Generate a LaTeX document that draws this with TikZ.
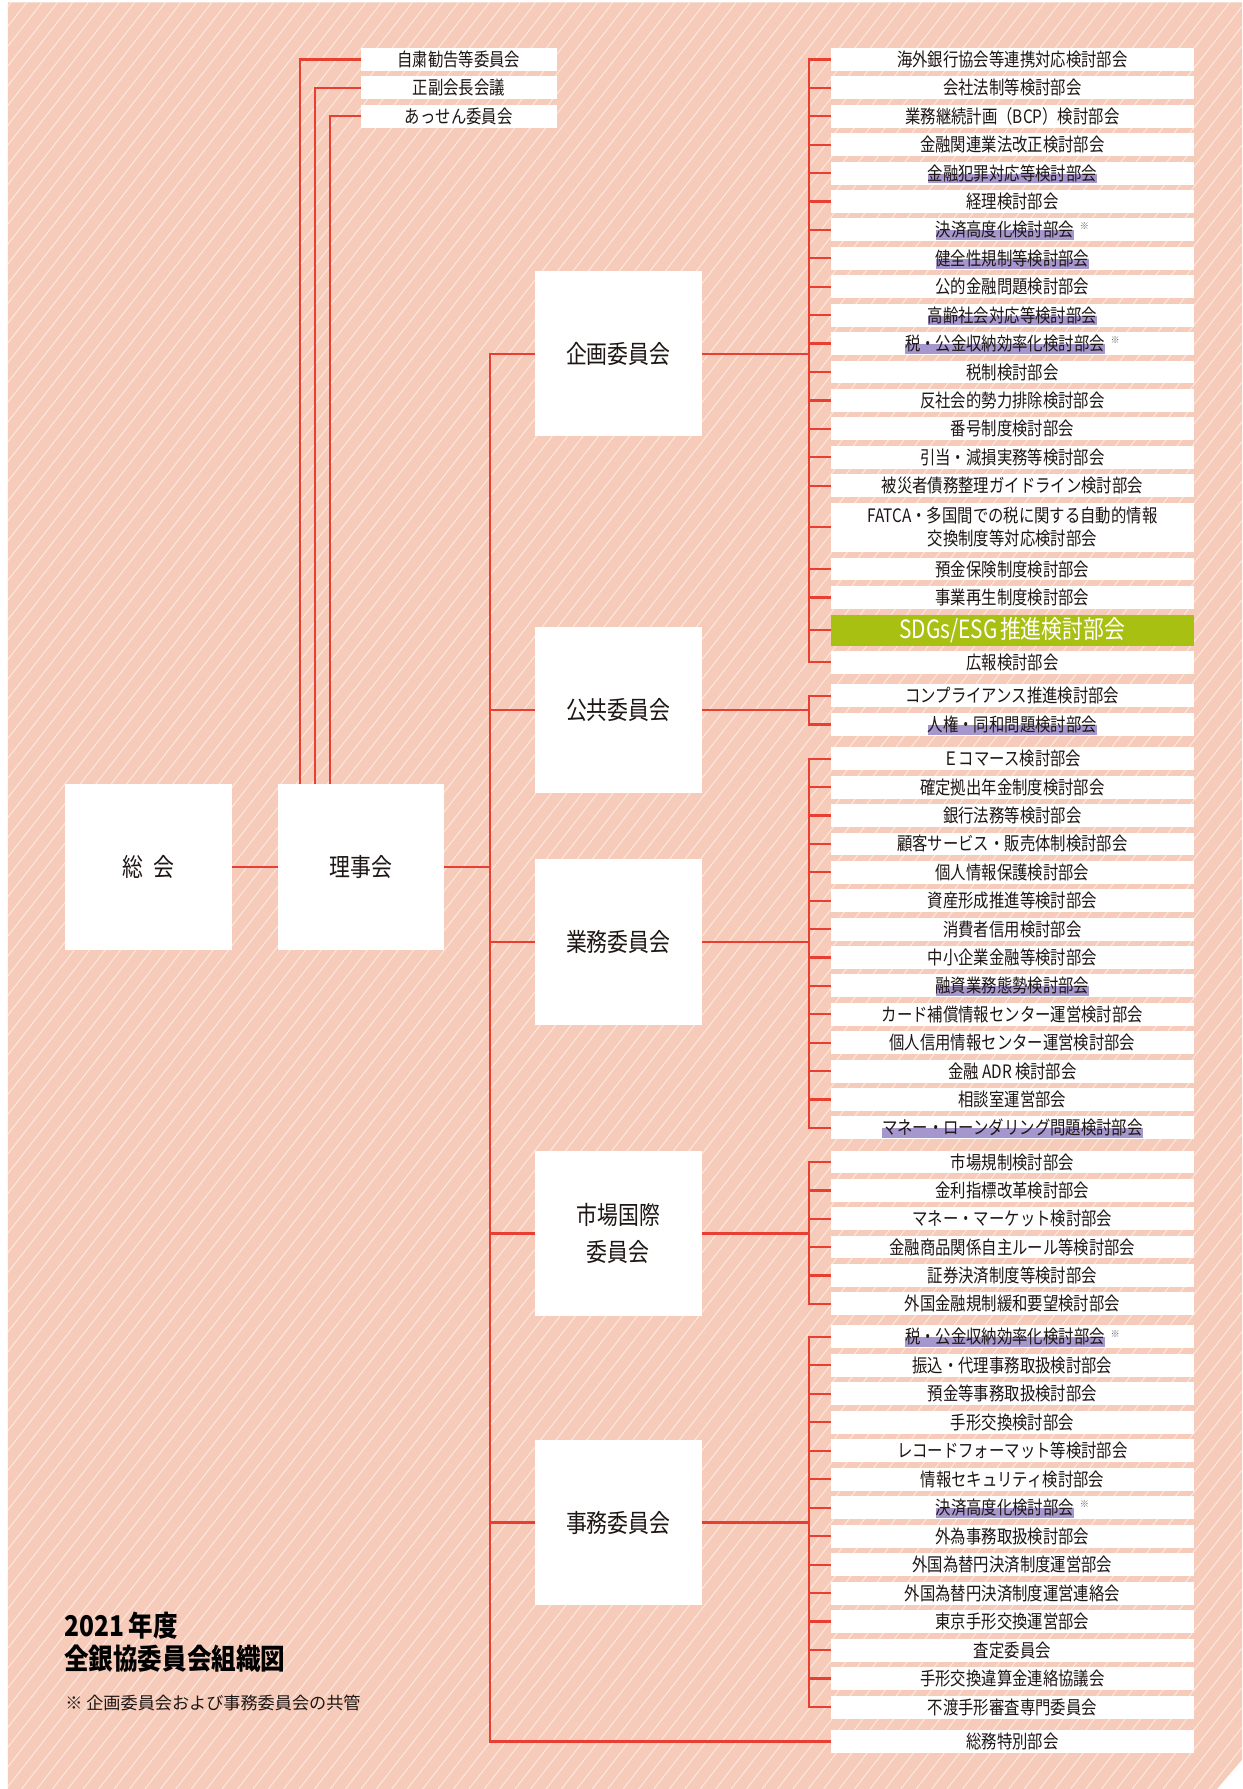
\documentclass[tikz,border=0pt]{standalone}
\usepackage{fontspec}
\usetikzlibrary{calc}
\newfontfamily\jp[FakeStretch=0.83]{Noto Sans CJK JP}
\newfontfamily\jpn{Noto Sans CJK JP}
\newfontfamily\jpt[FakeStretch=0.86]{Noto Sans CJK JP}
\definecolor{bgc}{RGB}{247,203,185}
\definecolor{redl}{RGB}{233,62,50}
\definecolor{hlc}{RGB}{165,150,205}
\definecolor{txt}{RGB}{30,22,20}
\definecolor{sdg}{RGB}{168,192,18}
\newsavebox\hlbox
\newcommand\hlt[1]{\sbox\hlbox{#1}\rlap{\smash{\color{hlc}\rule[-2.8pt]{\wd\hlbox}{8.5pt}}}\usebox\hlbox}
\newcommand\asta{\hspace{5pt}\raisebox{6pt}{\color{black!60}\jpn\fontsize{8}{8}\selectfont ※}}
\pgfdeclarelayer{bg}
\pgfdeclarelayer{lines}
\pgfsetlayers{bg,lines,main}
\tikzset{
  conn/.style={draw=redl, line width=2pt, line cap=rect},
  bigbox/.style={fill=white, minimum width=146pt, minimum height=145pt, inner sep=0pt, text=txt, font=\jp\fontsize{22}{33}\selectfont, align=center},
  item/.style={fill=white, minimum width=318pt, minimum height=20pt, inner sep=0pt, text=txt, font=\jp\fontsize{16.2}{20}\selectfont, align=center},
  topbox/.style={item, minimum width=172pt},
  sdgbox/.style={item, fill=sdg, text=white, minimum height=27pt, font=\jp\fontsize{22}{24}\selectfont},
  stripe/.style={draw=white, opacity=0.6, line width=0.8pt},
}
\begin{document}
\begin{tikzpicture}[x=1pt,y=-1pt]
\useasboundingbox (0,0) rectangle (1087,1565.7);
\begin{pgfonlayer}{bg}
  \fill[bgc] (7,2) -- (1087,2) -- (1087,1540) -- (1065,1565.7) -- (7,1565.7) -- cycle;
  \begin{scope}
    \clip (7,2) -- (1087,2) -- (1087,1540) -- (1065,1565.7) -- (7,1565.7) -- cycle;
    \foreach \k in {0,...,180} {
      \draw[stripe] ({-1240+\k*13.5},1570) -- ++(1226,-1572);
    }
  \end{scope}
\end{pgfonlayer}

% main boxes
\node[bigbox] (sokai) at (130,758.5) {総\hspace{0.4em}会};
\node[bigbox] (rijikai) at (316,758.5) {理事会};
\node[bigbox] (kikaku) at (541,309.5) {企画委員会};
\node[bigbox] (kokyo) at (541,621.5) {公共委員会};
\node[bigbox] (gyomu) at (541,824.5) {業務委員会};
\node[bigbox] (shijo) at (541,1079.5) {市場国際\\委員会};
\node[bigbox] (jimu) at (541,1332.5) {事務委員会};

% top-left boxes
\node[topbox] (t1) at (401.5,52) {自粛勧告等委員会};
\node[topbox] (t2) at (401.5,76.9) {正副会長会議};
\node[topbox] (t3) at (401.5,101.7) {あっせん委員会};

% kikaku group
\node[item] (k1) at (886,52.0) {海外銀行協会等連携対応検討部会};
\node[item] (k2) at (886,76.9) {会社法制等検討部会};
\node[item] (k3) at (886,101.7) {業務継続計画（BCP）検討部会};
\node[item] (k4) at (886,126.6) {金融関連業法改正検討部会};
\node[item] (k5) at (886,151.5) {\hlt{金融犯罪対応等検討部会}};
\node[item] (k6) at (886,176.4) {経理検討部会};
\node[item] (k7) at (886,201.2) {\hlt{決済高度化検討部会}\asta};
\node[item] (k8) at (886,226.1) {\hlt{健全性規制等検討部会}};
\node[item] (k9) at (886,251.0) {公的金融問題検討部会};
\node[item] (k10) at (886,275.8) {\hlt{高齢社会対応等検討部会}};
\node[item] (k11) at (886,300.7) {\hlt{税・公金収納効率化検討部会}\asta};
\node[item] (k12) at (886,325.6) {税制検討部会};
\node[item] (k13) at (886,350.4) {反社会的勢力排除検討部会};
\node[item] (k14) at (886,375.3) {番号制度検討部会};
\node[item] (k15) at (886,400.2) {引当・減損実務等検討部会};
\node[item] (k16) at (886,425.1) {被災者債務整理ガイドライン検討部会};
\node[item, minimum height=43pt] (k17) at (886,461.5) {FATCA・多国間での税に関する自動的情報\\交換制度等対応検討部会};
\node[item] (k18) at (886,498.0) {預金保険制度検討部会};
\node[item] (k19) at (886,522.8) {事業再生制度検討部会};
\node[sdgbox] (k20) at (886,551.6) {SDGs/ESG\hspace{2pt}推進検討部会};
\node[item] (k21) at (886,579.6) {広報検討部会};

% kokyo group
\node[item] (p1) at (886,609.0) {コンプライアンス推進検討部会};
\node[item] (p2) at (886,634.0) {\hlt{人権・同和問題検討部会}};

% gyomu group
\node[item] (g1) at (886,664.0) {Ｅコマース検討部会};
\node[item] (g2) at (886,688.9) {確定拠出年金制度検討部会};
\node[item] (g3) at (886,713.7) {銀行法務等検討部会};
\node[item] (g4) at (886,738.6) {顧客サービス・販売体制検討部会};
\node[item] (g5) at (886,763.4) {個人情報保護検討部会};
\node[item] (g6) at (886,788.3) {資産形成推進等検討部会};
\node[item] (g7) at (886,813.1) {消費者信用検討部会};
\node[item] (g8) at (886,838.0) {中小企業金融等検討部会};
\node[item] (g9) at (886,862.8) {\hlt{融資業務態勢検討部会}};
\node[item] (g10) at (886,887.7) {カード補償情報センター運営検討部会};
\node[item] (g11) at (886,912.5) {個人信用情報センター運営検討部会};
\node[item] (g12) at (886,937.4) {金融 ADR 検討部会};
\node[item] (g13) at (886,962.2) {相談室運営部会};
\node[item] (g14) at (886,987.0) {\hlt{マネー・ローンダリング問題検討部会}};

% shijo group
\node[item] (s1) at (886,1017.0) {市場規制検討部会};
\node[item] (s2) at (886,1041.8) {金利指標改革検討部会};
\node[item] (s3) at (886,1066.6) {マネー・マーケット検討部会};
\node[item] (s4) at (886,1091.4) {金融商品関係自主ルール等検討部会};
\node[item] (s5) at (886,1116.2) {証券決済制度等検討部会};
\node[item] (s6) at (886,1141.0) {外国金融規制緩和要望検討部会};

% jimu group
\node[item] (j1) at (886,1170.0) {\hlt{税・公金収納効率化検討部会}\asta};
\node[item] (j2) at (886,1194.9) {振込・代理事務取扱検討部会};
\node[item] (j3) at (886,1219.8) {預金等事務取扱検討部会};
\node[item] (j4) at (886,1244.8) {手形交換検討部会};
\node[item] (j5) at (886,1269.7) {レコードフォーマット等検討部会};
\node[item] (j6) at (886,1294.6) {情報セキュリティ検討部会};
\node[item] (j7) at (886,1319.5) {\hlt{決済高度化検討部会}\asta};
\node[item] (j8) at (886,1344.4) {外為事務取扱検討部会};
\node[item] (j9) at (886,1369.4) {外国為替円決済制度運営部会};
\node[item] (j10) at (886,1394.3) {外国為替円決済制度運営連絡会};
\node[item] (j11) at (886,1419.2) {東京手形交換運営部会};
\node[item] (j12) at (886,1444.1) {査定委員会};
\node[item] (j13) at (886,1469.0) {手形交換違算金連絡協議会};
\node[item] (j14) at (886,1494.0) {不渡手形審査専門委員会};
\node[item] (somu) at (886,1524.0) {総務特別部会};

% title and note
\node[anchor=west, inner sep=0pt, text=black, font=\jpt\bfseries\fontsize{25}{28}\selectfont] (title1) at (56,1423) {2021\,年度};
\node[anchor=west, inner sep=0pt, text=black, font=\jpt\bfseries\fontsize{25}{28}\selectfont] (title2) at (56,1452) {全銀協委員会組織図};
\node[anchor=west, inner sep=0pt, text=txt, font=\jpn\fontsize{15}{16}\selectfont] (note) at (57,1490) {※ 企画委員会および事務委員会の共管};

\coordinate (TR) at (429,0);
\coordinate (BK) at (708,0);

\begin{pgfonlayer}{lines}
  \draw[conn] (sokai.east) -- (rijikai.west);
  \draw[conn] ($(rijikai.north west)+(20,0)$) |- (t1.west);
  \draw[conn] ($(rijikai.north west)+(33,0)$) |- (t2.west);
  \draw[conn] ($(rijikai.north west)+(46,0)$) |- (t3.west);
  \draw[conn] (rijikai.east) -- (rijikai.east -| TR);
  \draw[conn] (kikaku.west -| TR) -- (somu.west -| TR);
  \foreach \c in {kikaku,kokyo,gyomu,shijo,jimu} {
    \draw[conn] (\c.west) -- (\c.west -| TR);
    \draw[conn] (\c.east) -- (\c.east -| BK);
  }
  \draw[conn] (somu.west) -- (somu.west -| TR);
  \draw[conn] (k1.west -| BK) -- (k21.west -| BK);
  \foreach \i in {1,...,21} { \draw[conn] (k\i.west) -- (k\i.west -| BK); }
  \draw[conn] (p1.west -| BK) -- (p2.west -| BK);
  \foreach \i in {1,2} { \draw[conn] (p\i.west) -- (p\i.west -| BK); }
  \draw[conn] (g1.west -| BK) -- (g14.west -| BK);
  \foreach \i in {1,...,14} { \draw[conn] (g\i.west) -- (g\i.west -| BK); }
  \draw[conn] (s1.west -| BK) -- (s6.west -| BK);
  \foreach \i in {1,...,6} { \draw[conn] (s\i.west) -- (s\i.west -| BK); }
  \draw[conn] (j1.west -| BK) -- (j14.west -| BK);
  \foreach \i in {1,...,14} { \draw[conn] (j\i.west) -- (j\i.west -| BK); }
\end{pgfonlayer}
\end{tikzpicture}
\end{document}
